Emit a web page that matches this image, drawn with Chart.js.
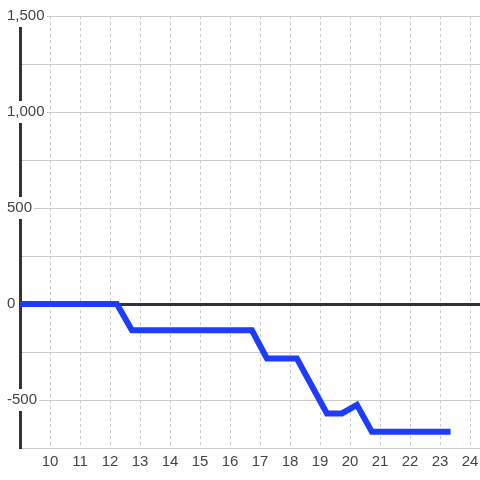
<!DOCTYPE html>
<html>
<head>
<meta charset="utf-8">
<script src="https://cdn.jsdelivr.net/npm/chart.js@4/dist/chart.umd.min.js"></script>
<style>
  html, body { margin: 0; padding: 0; background: #fff; }
  #wrap { width: 480px; height: 480px; position: relative; }
</style>
</head>
<body>
<div id="wrap"><canvas id="chart-line"></canvas></div>
<script>
// values
const xValues = [9, 12.23, 12.73, 16.73, 17.23, 18.23, 19.23, 19.73, 20.23, 20.73, 23.25];
const yValues = [0, 0, -137, -137, -284, -284, -570, -570, -525, -666, -666];
const xTicks = [10, 11, 12, 13, 14, 15, 16, 17, 18, 19, 20, 21, 22, 23, 24];
const yTicks = [-750, -500, -250, 0, 250, 500, 750, 1000, 1250, 1500];
const yLabels = [-500, 0, 500, 1000, 1500];

const points = xValues.map((x, i) => ({ x, y: yValues[i] }));
const font = { family: '"Liberation Sans", Arial, sans-serif', size: 15 };
const isLabelled = (v) => yLabels.includes(v);

const ctx = document.getElementById('chart-line').getContext('2d');
new Chart(ctx, {
  type: 'line',
  data: {
    datasets: [{
      data: points,
      borderColor: '#1e3cff',
      borderWidth: 6,
      borderCapStyle: 'square',
      borderJoinStyle: 'miter',
      pointRadius: 0,
      tension: 0,
      fill: false
    }]
  },
  options: {
    responsive: true,
    maintainAspectRatio: false,
    animation: false,
    layout: { padding: { left: 20, top: 16, right: 0, bottom: 4 } },
    plugins: { legend: { display: false }, tooltip: { enabled: false } },
    scales: {
      x: {
        type: 'linear',
        min: 9,
        max: 24 + 1 / 3,
        afterBuildTicks: (scale) => { scale.ticks = xTicks.map((v) => ({ value: v })); },
        afterFit: (scale) => { scale.paddingLeft = 0; scale.paddingRight = 0; },
        grid: { color: '#cccccc', lineWidth: 1, drawTicks: false, z: -1 },
        // in v4 border.dash dashes the grid lines
        border: { display: true, color: '#cccccc', width: 1, dash: [3, 3] },
        ticks: { font, color: '#444', padding: 5, maxRotation: 0, autoSkip: false }
      },
      y: {
        type: 'linear',
        min: -750,
        max: 1500,
        afterBuildTicks: (scale) => { scale.ticks = yTicks.map((v) => ({ value: v })); },
        afterFit: (scale) => { scale.width = 0; },
        grid: {
          drawTicks: false,
          color: (c) => (c.tick && c.tick.value === 0 ? '#333333' : '#c8c8c8'),
          lineWidth: (c) => (c.tick && c.tick.value === 0 ? 3 : 1)
        },
        border: { display: true, color: '#333333', width: 3 },
        ticks: {
          font,
          color: '#444',
          mirror: true,
          padding: -13,
          showLabelBackdrop: true,
          backdropPadding: 2,
          backdropColor: (c) => (c.tick && isLabelled(c.tick.value) ? '#ffffff' : 'rgba(0,0,0,0)'),
          callback: (v) => (isLabelled(v) ? v.toLocaleString('en-US') : '')
        }
      }
    }
  }
});
</script>
</body>
</html>
